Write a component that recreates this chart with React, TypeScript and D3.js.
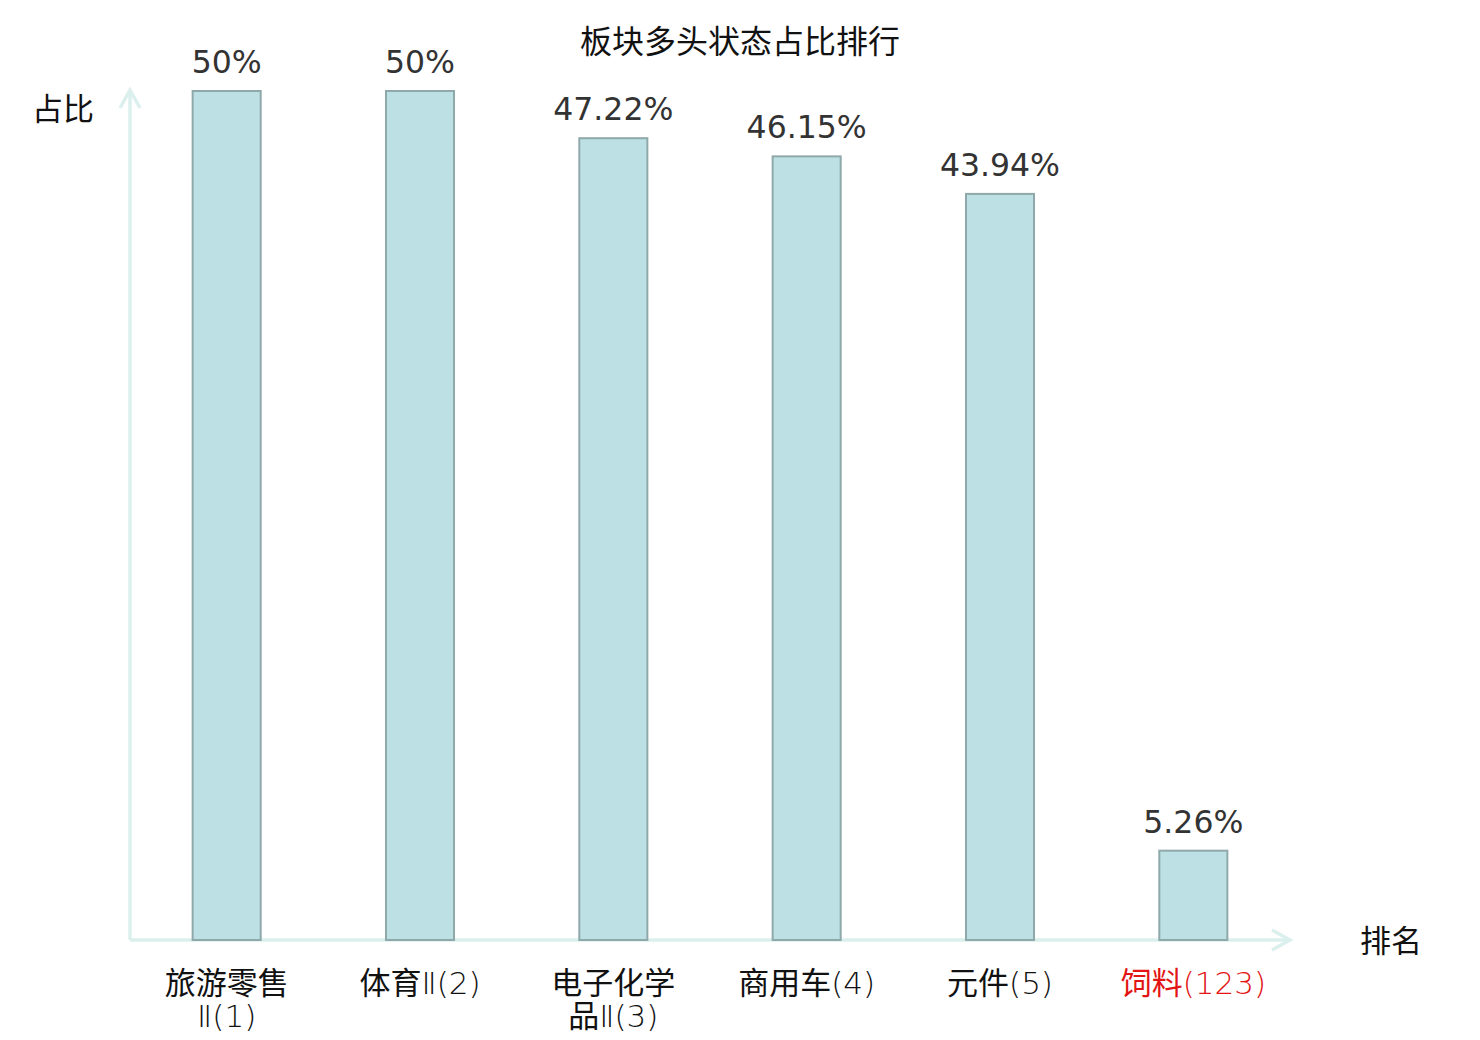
import React from "react";
import * as d3 from "d3";

const title = "板块多头状态占比排行";
const categories = ["旅游零售\nⅡ(1)", "体育Ⅱ(2)", "电子化学\n品Ⅱ(3)", "商用车(4)", "元件(5)", "饲料(123)"];
const values = [50, 50, 47.22, 46.15, 43.94, 5.26];
const valueLabels = ["50%", "50%", "47.22%", "46.15%", "43.94%", "5.26%"];
const highlighted = [false, false, false, false, false, true];
const yAxisName = "占比";
const xAxisName = "排名";

const W = 1480;
const H = 1040;
const left = 130;
const right = 1290;
const bottom = 940;
const top = 91;

const cjkRe = /[\u4e00-\u9fff]+|[^\u4e00-\u9fff]+/g;

export default function App() {
  const x = d3.scaleBand<number>().domain(d3.range(categories.length)).range([left, right]).padding(0);
  const y = d3.scaleLinear().domain([0, 50]).range([bottom, top]);
  const bw = x.bandwidth() * 0.352;
  const axisColor = "#dbf0ed";
  const cjk = "'Noto Sans CJK SC', sans-serif";
  const num = "'DejaVu Sans', sans-serif";
  return (
    <svg width={W} height={H} style={{ position: "absolute", left: 0, top: 0, background: "#fff" }}>
      <text x={740} y={53} textAnchor="middle" fontFamily={cjk} fontSize={32} fill="#111">{title}</text>
      <text x={63} y={120} textAnchor="middle" fontFamily={cjk} fontSize={31} fill="#111">{yAxisName}</text>
      <text x={1391} y={952} textAnchor="middle" fontFamily={cjk} fontSize={31} fill="#111">{xAxisName}</text>
      {/* axes */}
      <line x1={left} y1={bottom} x2={left} y2={90} stroke={axisColor} strokeWidth={3.5} />
      <path d={`M${left - 10},${108} L${left},${90} L${left + 10},${108}`} fill="none" stroke={axisColor} strokeWidth={3.5} />
      <line x1={left} y1={bottom} x2={right} y2={bottom} stroke={axisColor} strokeWidth={3.5} />
      <path d={`M${right - 18},${bottom - 10} L${right},${bottom} L${right - 18},${bottom + 10}`} fill="none" stroke={axisColor} strokeWidth={3.5} />
      {values.map((v, i) => {
        const cx = (x(i) as number) + x.bandwidth() / 2;
        return (
          <g key={i}>
            <rect x={cx - bw / 2} y={y(v)} width={bw} height={bottom - y(v)} fill="#bce0e3" stroke="#8fa8a9" strokeWidth={2} />
            <text x={cx} y={y(v) - 18} textAnchor="middle" fontFamily={num} fontSize={31.5} fill="#333">{valueLabels[i]}</text>
            <text x={cx} y={994} textAnchor="middle" fontSize={31} fill={highlighted[i] ? "#e31414" : "#111"}>
              {categories[i].split("\n").map((ln, j) => (
                <tspan key={j} x={cx} dy={j === 0 ? 0 : 33}>
                  {(ln.match(cjkRe) || []).map((run, k) =>
                    /[\u4e00-\u9fff]/.test(run) ? (
                      <tspan key={k} fontFamily={cjk} fontWeight={400}>{run}</tspan>
                    ) : (
                      <tspan key={k} fontFamily={num} fontWeight={200}>{run}</tspan>
                    )
                  )}
                </tspan>
              ))}
            </text>
          </g>
        );
      })}
    </svg>
  );
}
